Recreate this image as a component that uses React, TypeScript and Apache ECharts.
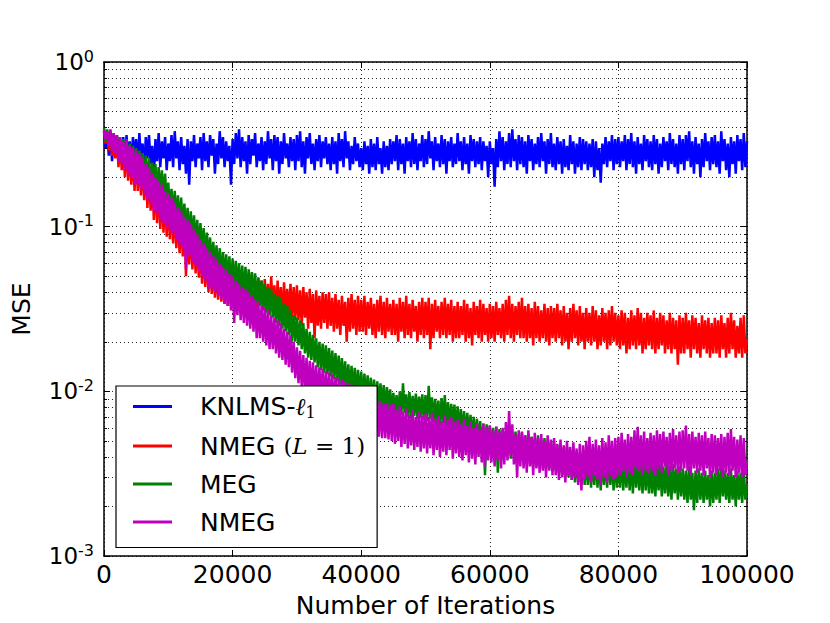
import React, { useEffect, useRef } from 'react';
import * as echarts from 'echarts';

// Iteration spacing of the sampled MSE curves (401 samples, 0..100000)
const STEP = 250;

const SERIES_NAMES = ['KNLMS-ℓ1', 'NMEG (L=1)', 'MEG', 'NMEG'];
const SERIES_COLORS = ['#0000ff', '#ff0000', '#008000', '#bf00bf'];
const X_TICKS = [0, 20000, 40000, 60000, 80000, 100000];

const KNLMS = [
  0.38, 0.30, 0.36, 0.27, 0.37, 0.25, 0.34, 0.28, 0.36, 0.24, 0.33, 0.27, 0.35, 0.22, 0.36, 0.26, 0.33, 0.24, 0.35, 0.27,
  0.34, 0.23, 0.37, 0.25, 0.32, 0.21, 0.35, 0.26, 0.36, 0.24, 0.31, 0.20, 0.34, 0.25, 0.37, 0.23, 0.33, 0.26, 0.35, 0.22,
  0.32, 0.25, 0.36, 0.23, 0.38, 0.26, 0.33, 0.22, 0.35, 0.24, 0.31, 0.21, 0.34, 0.18, 0.33, 0.25, 0.36, 0.23, 0.32, 0.26,
  0.35, 0.22, 0.37, 0.25, 0.33, 0.23, 0.36, 0.27, 0.34, 0.21, 0.32, 0.24, 0.38, 0.26, 0.35, 0.23, 0.33, 0.25, 0.31, 0.18,
  0.34, 0.24, 0.37, 0.26, 0.39, 0.23, 0.35, 0.25, 0.33, 0.21, 0.36, 0.24, 0.34, 0.27, 0.37, 0.23, 0.32, 0.25, 0.35, 0.22,
  0.33, 0.24, 0.38, 0.26, 0.34, 0.22, 0.36, 0.25, 0.35, 0.21, 0.33, 0.24, 0.37, 0.26, 0.32, 0.23, 0.35, 0.25, 0.34, 0.22,
  0.36, 0.25, 0.38, 0.23, 0.33, 0.21, 0.35, 0.26, 0.37, 0.24, 0.32, 0.22, 0.34, 0.25, 0.36, 0.23, 0.33, 0.26, 0.35, 0.24,
  0.32, 0.22, 0.35, 0.24, 0.33, 0.21, 0.37, 0.25, 0.34, 0.23, 0.38, 0.26, 0.33, 0.22, 0.31, 0.24, 0.35, 0.25, 0.32, 0.23,
  0.30, 0.22, 0.33, 0.24, 0.31, 0.21, 0.34, 0.23, 0.32, 0.22, 0.35, 0.24, 0.30, 0.21, 0.33, 0.23, 0.31, 0.22, 0.34, 0.24,
  0.33, 0.25, 0.36, 0.22, 0.34, 0.24, 0.32, 0.21, 0.35, 0.25, 0.33, 0.23, 0.37, 0.24, 0.34, 0.22, 0.32, 0.25, 0.36, 0.23,
  0.34, 0.24, 0.38, 0.26, 0.33, 0.22, 0.35, 0.25, 0.32, 0.23, 0.36, 0.24, 0.34, 0.21, 0.33, 0.25, 0.35, 0.23, 0.32, 0.24,
  0.37, 0.25, 0.33, 0.22, 0.35, 0.24, 0.32, 0.21, 0.36, 0.25, 0.34, 0.23, 0.33, 0.24, 0.35, 0.22, 0.33, 0.25, 0.31, 0.20,
  0.33, 0.24, 0.30, 0.175, 0.34, 0.23, 0.38, 0.25, 0.35, 0.22, 0.33, 0.24, 0.37, 0.23, 0.39, 0.25, 0.34, 0.22, 0.36, 0.24,
  0.35, 0.23, 0.33, 0.21, 0.36, 0.25, 0.34, 0.22, 0.32, 0.24, 0.35, 0.23, 0.37, 0.25, 0.33, 0.21, 0.34, 0.24, 0.37, 0.23,
  0.32, 0.22, 0.35, 0.24, 0.33, 0.21, 0.34, 0.23, 0.31, 0.22, 0.36, 0.24, 0.33, 0.21, 0.32, 0.23, 0.35, 0.22, 0.34, 0.24,
  0.33, 0.22, 0.32, 0.23, 0.34, 0.20, 0.33, 0.22, 0.30, 0.185, 0.32, 0.24, 0.35, 0.23, 0.33, 0.25, 0.36, 0.22, 0.34, 0.24,
  0.35, 0.23, 0.33, 0.25, 0.36, 0.22, 0.34, 0.24, 0.37, 0.23, 0.33, 0.21, 0.35, 0.24, 0.32, 0.22, 0.36, 0.25, 0.34, 0.23,
  0.33, 0.22, 0.36, 0.24, 0.34, 0.21, 0.32, 0.23, 0.35, 0.25, 0.33, 0.22, 0.37, 0.24, 0.34, 0.23, 0.32, 0.21, 0.36, 0.24,
  0.34, 0.22, 0.36, 0.25, 0.38, 0.23, 0.33, 0.21, 0.35, 0.24, 0.32, 0.20, 0.34, 0.23, 0.37, 0.25, 0.33, 0.22, 0.35, 0.24,
  0.36, 0.23, 0.33, 0.21, 0.38, 0.25, 0.34, 0.22, 0.32, 0.20, 0.35, 0.24, 0.33, 0.21, 0.36, 0.25, 0.34, 0.22, 0.37, 0.23,
  0.33,
];

const NMEG_L1 = [
  0.38, 0.32, 0.37, 0.29, 0.38, 0.27, 0.36, 0.26, 0.35, 0.23, 0.34, 0.22, 0.32, 0.2, 0.33, 0.19, 0.3, 0.18, 0.29, 0.165,
  0.28, 0.165, 0.27, 0.155, 0.25, 0.145, 0.23, 0.13, 0.22, 0.125, 0.2, 0.11, 0.19, 0.105, 0.18, 0.097, 0.17, 0.092, 0.16, 0.087,
  0.15, 0.084, 0.145, 0.079, 0.135, 0.074, 0.125, 0.069, 0.12, 0.066, 0.11, 0.05, 0.105, 0.059, 0.1, 0.055, 0.094, 0.052, 0.088, 0.049,
  0.08, 0.045, 0.076, 0.043, 0.07, 0.04, 0.066, 0.039, 0.062, 0.037, 0.058, 0.036, 0.055, 0.035, 0.053, 0.034, 0.052, 0.033, 0.05, 0.033,
  0.051, 0.034, 0.049, 0.032, 0.053, 0.035, 0.048, 0.031, 0.05, 0.034, 0.047, 0.032, 0.052, 0.033, 0.046, 0.03, 0.049, 0.033, 0.047, 0.031,
  0.048, 0.031, 0.045, 0.029, 0.05, 0.032, 0.044, 0.028, 0.047, 0.03, 0.043, 0.027, 0.046, 0.029, 0.042, 0.026, 0.045, 0.028, 0.043, 0.027,
  0.044, 0.027, 0.041, 0.025, 0.043, 0.028, 0.04, 0.024, 0.042, 0.026, 0.039, 0.021, 0.041, 0.025, 0.038, 0.024, 0.04, 0.026, 0.039, 0.024,
  0.04, 0.025, 0.037, 0.023, 0.039, 0.024, 0.036, 0.022, 0.038, 0.025, 0.035, 0.02, 0.037, 0.023, 0.039, 0.024, 0.036, 0.022, 0.038, 0.023,
  0.036, 0.023, 0.038, 0.022, 0.035, 0.024, 0.037, 0.022, 0.034, 0.021, 0.036, 0.023, 0.038, 0.022, 0.035, 0.021, 0.037, 0.023, 0.034, 0.022,
  0.036, 0.022, 0.034, 0.02, 0.037, 0.023, 0.035, 0.021, 0.038, 0.022, 0.034, 0.021, 0.036, 0.023, 0.033, 0.02, 0.035, 0.022, 0.037, 0.021,
  0.035, 0.022, 0.037, 0.018, 0.034, 0.021, 0.036, 0.023, 0.033, 0.021, 0.035, 0.022, 0.037, 0.021, 0.034, 0.022, 0.036, 0.02, 0.033, 0.021,
  0.035, 0.021, 0.033, 0.022, 0.036, 0.02, 0.034, 0.021, 0.032, 0.019, 0.035, 0.022, 0.033, 0.021, 0.036, 0.02, 0.034, 0.022, 0.032, 0.02,
  0.034, 0.021, 0.033, 0.02, 0.035, 0.022, 0.032, 0.021, 0.034, 0.02, 0.036, 0.022, 0.038, 0.021, 0.034, 0.02, 0.033, 0.022, 0.035, 0.021,
  0.037, 0.021, 0.033, 0.02, 0.034, 0.021, 0.032, 0.019, 0.035, 0.021, 0.033, 0.02, 0.031, 0.021, 0.034, 0.02, 0.032, 0.019, 0.033, 0.021,
  0.032, 0.02, 0.034, 0.021, 0.031, 0.019, 0.033, 0.02, 0.03, 0.018, 0.032, 0.02, 0.034, 0.021, 0.031, 0.019, 0.033, 0.02, 0.03, 0.018,
  0.032, 0.02, 0.03, 0.019, 0.033, 0.02, 0.031, 0.018, 0.029, 0.019, 0.032, 0.02, 0.03, 0.018, 0.031, 0.019, 0.033, 0.02, 0.03, 0.019,
  0.029, 0.018, 0.031, 0.019, 0.03, 0.017, 0.028, 0.018, 0.031, 0.019, 0.029, 0.018, 0.032, 0.019, 0.03, 0.017, 0.028, 0.018, 0.03, 0.019,
  0.029, 0.018, 0.031, 0.017, 0.028, 0.018, 0.03, 0.019, 0.029, 0.017, 0.027, 0.018, 0.03, 0.017, 0.028, 0.018, 0.027, 0.0145, 0.029, 0.017,
  0.028, 0.017, 0.03, 0.018, 0.027, 0.016, 0.029, 0.018, 0.028, 0.017, 0.026, 0.016, 0.029, 0.018, 0.027, 0.017, 0.028, 0.016, 0.026, 0.017,
  0.028, 0.017, 0.027, 0.016, 0.029, 0.018, 0.026, 0.016, 0.028, 0.017, 0.03, 0.018, 0.027, 0.016, 0.025, 0.017, 0.028, 0.016, 0.029, 0.017,
  0.021,
];

const MEG = [
  0.4, 0.33, 0.39, 0.31, 0.38, 0.3, 0.37, 0.29, 0.36, 0.28, 0.35, 0.26, 0.34, 0.25, 0.33, 0.24, 0.32, 0.23, 0.31, 0.22,
  0.3, 0.21, 0.29, 0.2, 0.28, 0.19, 0.27, 0.18, 0.26, 0.17, 0.245, 0.165, 0.24, 0.16, 0.23, 0.155, 0.22, 0.15, 0.21, 0.14,
  0.185, 0.125, 0.17, 0.115, 0.165, 0.11, 0.155, 0.1, 0.15, 0.098, 0.138, 0.092, 0.13, 0.086, 0.124, 0.082, 0.117, 0.078, 0.11, 0.074,
  0.105, 0.07, 0.098, 0.066, 0.092, 0.062, 0.086, 0.058, 0.081, 0.054, 0.077, 0.051, 0.074, 0.049, 0.07, 0.047, 0.068, 0.045, 0.066, 0.043,
  0.064, 0.043, 0.062, 0.041, 0.06, 0.04, 0.058, 0.038, 0.057, 0.038, 0.055, 0.037, 0.053, 0.035, 0.052, 0.034, 0.049, 0.033, 0.047, 0.031,
  0.045, 0.03, 0.043, 0.029, 0.042, 0.028, 0.039, 0.026, 0.038, 0.025, 0.037, 0.024, 0.034, 0.023, 0.033, 0.022, 0.031, 0.02, 0.029, 0.02,
  0.028, 0.019, 0.027, 0.018, 0.026, 0.017, 0.024, 0.016, 0.023, 0.0155, 0.022, 0.015, 0.021, 0.014, 0.02, 0.0135, 0.0195, 0.013, 0.019, 0.0127,
  0.0183, 0.0123, 0.0177, 0.0119, 0.0171, 0.0115, 0.0165, 0.011, 0.0159, 0.0106, 0.0152, 0.0102, 0.0146, 0.0098, 0.0143, 0.0096, 0.0139, 0.0093, 0.0135, 0.0091,
  0.0132, 0.009, 0.0128, 0.0088, 0.0125, 0.0085, 0.0121, 0.0083, 0.0118, 0.0081, 0.0115, 0.008, 0.0112, 0.0078, 0.0109, 0.0076, 0.0106, 0.0075, 0.0103, 0.0075,
  0.0098, 0.0073, 0.0095, 0.0071, 0.01, 0.0072, 0.0112, 0.0074, 0.0096, 0.007, 0.0099, 0.0069, 0.0094, 0.0071, 0.0097, 0.0068, 0.0093, 0.0069, 0.0096, 0.0067,
  0.0095, 0.0066, 0.0108, 0.0068, 0.0092, 0.0065, 0.009, 0.0063, 0.0088, 0.0062, 0.0091, 0.0064, 0.0095, 0.006, 0.0086, 0.0061, 0.0084, 0.0058, 0.0083, 0.0057,
  0.0081, 0.0056, 0.0078, 0.0054, 0.0076, 0.0053, 0.0074, 0.0051, 0.0072, 0.005, 0.007, 0.0048, 0.0068, 0.0047, 0.0066, 0.0045, 0.0064, 0.0031, 0.0063, 0.0044,
  0.0062, 0.0043, 0.006, 0.0042, 0.0061, 0.0032, 0.0059, 0.0041, 0.0058, 0.004, 0.0057, 0.0041, 0.0059, 0.0039, 0.0056, 0.004, 0.0057, 0.0038, 0.0055, 0.0039,
  0.0056, 0.0038, 0.0054, 0.0037, 0.0055, 0.0036, 0.0053, 0.0037, 0.0052, 0.0035, 0.0054, 0.0036, 0.0051, 0.0034, 0.0052, 0.0035, 0.005, 0.0034, 0.0049, 0.0033,
  0.0049, 0.0033, 0.0047, 0.0032, 0.0048, 0.0031, 0.0045, 0.003, 0.0046, 0.003, 0.0044, 0.0029, 0.0043, 0.0028, 0.0042, 0.0028, 0.0041, 0.0027, 0.0042, 0.0027,
  0.004, 0.0027, 0.0041, 0.0026, 0.0039, 0.0027, 0.0042, 0.0026, 0.004, 0.0025, 0.0041, 0.0027, 0.0039, 0.0026, 0.0042, 0.0027, 0.004, 0.0025, 0.0041, 0.0026,
  0.0039, 0.0026, 0.0041, 0.0025, 0.0038, 0.0026, 0.004, 0.0025, 0.0039, 0.0024, 0.0041, 0.0026, 0.0038, 0.0025, 0.0037, 0.0024, 0.0039, 0.0025, 0.0038, 0.0024,
  0.0037, 0.0024, 0.0036, 0.0023, 0.0038, 0.0025, 0.0036, 0.0023, 0.0035, 0.0024, 0.0037, 0.0023, 0.0035, 0.0022, 0.0036, 0.0024, 0.0034, 0.0022, 0.0035, 0.0023,
  0.0034, 0.0022, 0.0033, 0.0021, 0.0035, 0.0022, 0.0032, 0.0019, 0.0033, 0.0021, 0.0034, 0.0022, 0.0032, 0.0021, 0.0033, 0.0022, 0.0031, 0.002, 0.0033, 0.0021,
  0.0032, 0.0022, 0.0034, 0.0021, 0.0036, 0.0023, 0.0033, 0.0022, 0.0032, 0.0021, 0.0034, 0.0022, 0.0031, 0.002, 0.0033, 0.0022, 0.0032, 0.0021, 0.0034, 0.0022,
  0.0027,
];

const NMEG = [
  0.39, 0.34, 0.38, 0.31, 0.39, 0.29, 0.37, 0.28, 0.36, 0.25, 0.35, 0.24, 0.33, 0.22, 0.34, 0.21, 0.31, 0.2, 0.3, 0.18,
  0.29, 0.18, 0.28, 0.17, 0.26, 0.16, 0.24, 0.145, 0.23, 0.14, 0.21, 0.125, 0.2, 0.12, 0.19, 0.11, 0.18, 0.105, 0.165, 0.1,
  0.16, 0.095, 0.15, 0.09, 0.14, 0.083, 0.13, 0.078, 0.125, 0.074, 0.115, 0.055, 0.11, 0.066, 0.105, 0.062, 0.097, 0.058, 0.09, 0.054,
  0.084, 0.05, 0.079, 0.047, 0.074, 0.042, 0.07, 0.042, 0.066, 0.04, 0.064, 0.038, 0.06, 0.036, 0.057, 0.034, 0.055, 0.033, 0.052, 0.031,
  0.05, 0.026, 0.047, 0.029, 0.045, 0.027, 0.043, 0.026, 0.042, 0.025, 0.04, 0.024, 0.038, 0.023, 0.036, 0.021, 0.035, 0.021, 0.033, 0.02,
  0.032, 0.019, 0.031, 0.018, 0.029, 0.018, 0.028, 0.017, 0.027, 0.016, 0.026, 0.0155, 0.024, 0.0145, 0.023, 0.014, 0.022, 0.013, 0.02, 0.012,
  0.0185, 0.0112, 0.0176, 0.0106, 0.0166, 0.01, 0.016, 0.0096, 0.0153, 0.0092, 0.015, 0.009, 0.0144, 0.0087, 0.014, 0.0085, 0.0137, 0.0082, 0.0133, 0.008,
  0.013, 0.0078, 0.0127, 0.0076, 0.0122, 0.0074, 0.012, 0.0072, 0.0118, 0.0071, 0.0115, 0.0069, 0.0112, 0.0068, 0.011, 0.0066, 0.0107, 0.0065, 0.0106, 0.0064,
  0.0105, 0.0063, 0.0101, 0.0061, 0.0097, 0.0058, 0.0093, 0.0056, 0.0091, 0.0055, 0.0088, 0.0053, 0.0087, 0.0052, 0.0085, 0.0052, 0.0084, 0.0051, 0.0083, 0.005,
  0.0084, 0.0048, 0.0078, 0.005, 0.0081, 0.0046, 0.0075, 0.0048, 0.0079, 0.0045, 0.0072, 0.0047, 0.0077, 0.0044, 0.007, 0.0046, 0.0076, 0.0043, 0.0071, 0.0045,
  0.0073, 0.0042, 0.0069, 0.0045, 0.0074, 0.0041, 0.0068, 0.0044, 0.0071, 0.004, 0.0066, 0.0043, 0.0072, 0.0041, 0.0067, 0.0044, 0.007, 0.0039, 0.0065, 0.0042,
  0.0067, 0.004, 0.0063, 0.0038, 0.0068, 0.0041, 0.0062, 0.0037, 0.0066, 0.0039, 0.006, 0.0036, 0.0064, 0.004, 0.0059, 0.0037, 0.0063, 0.0035, 0.0061, 0.0038,
  0.0062, 0.0037, 0.0058, 0.0035, 0.0061, 0.0038, 0.0057, 0.0034, 0.006, 0.0036, 0.0065, 0.0038, 0.0076, 0.0041, 0.0063, 0.0036, 0.0055, 0.003, 0.0058, 0.0035,
  0.0057, 0.0034, 0.0054, 0.0032, 0.0058, 0.0035, 0.0053, 0.0031, 0.0056, 0.0034, 0.0052, 0.0032, 0.0055, 0.0033, 0.005, 0.003, 0.0054, 0.0033, 0.0051, 0.0031,
  0.0052, 0.0031, 0.0048, 0.0029, 0.0051, 0.003, 0.0047, 0.0028, 0.005, 0.0031, 0.0046, 0.0029, 0.0049, 0.003, 0.0045, 0.0027, 0.0048, 0.0025, 0.0047, 0.0029,
  0.005, 0.003, 0.0053, 0.0028, 0.0048, 0.0031, 0.0051, 0.0029, 0.0047, 0.0027, 0.0052, 0.003, 0.0049, 0.0028, 0.0054, 0.0031, 0.005, 0.0029, 0.0052, 0.003,
  0.0053, 0.0031, 0.0056, 0.0033, 0.0051, 0.003, 0.0055, 0.0032, 0.0053, 0.0031, 0.0058, 0.0034, 0.0061, 0.0033, 0.0054, 0.0031, 0.0057, 0.0033, 0.0052, 0.0032,
  0.0056, 0.0033, 0.0054, 0.0031, 0.0058, 0.0034, 0.0055, 0.0032, 0.0057, 0.0035, 0.0053, 0.0031, 0.0056, 0.0033, 0.0059, 0.0034, 0.0054, 0.0032, 0.0057, 0.0033,
  0.0058, 0.0034, 0.0062, 0.0033, 0.0055, 0.0031, 0.0057, 0.0034, 0.0053, 0.0032, 0.0056, 0.0033, 0.0054, 0.0031, 0.0057, 0.0034, 0.0052, 0.003, 0.0055, 0.0032,
  0.0054, 0.0031, 0.0052, 0.0033, 0.0055, 0.003, 0.0053, 0.0032, 0.0056, 0.0031, 0.0059, 0.0033, 0.0053, 0.003, 0.0051, 0.0032, 0.0054, 0.003, 0.0052, 0.0031,
  0.0038,
];

const X_MIN = X_TICKS[0];
const X_MAX = X_TICKS[X_TICKS.length - 1];
const X_INTERVAL = X_TICKS[1] - X_TICKS[0];
const Y_MIN = 0.001;
const Y_MAX = 1;

const FONT = 'DejaVu Sans';
const SERIF = 'DejaVu Serif';

const dotted = { type: [1, 3] as number[], color: '#000', width: 1, opacity: 0.85 };

function toPairs(values: number[]) {
  return values.map((v, i) => [i * STEP, v]);
}

export default function App() {
  const ref = useRef<HTMLDivElement>(null);

  useEffect(() => {
    document.body.style.margin = '0';
    const chart = echarts.init(ref.current!, null, { renderer: 'svg' });
    const allData = [KNLMS, NMEG_L1, MEG, NMEG];

    const option: any = {
      animation: false,
      backgroundColor: '#fff',
      textStyle: { fontFamily: FONT, color: '#000' },
      grid: { left: 104, right: 83, top: 62, bottom: 63, containLabel: false },
      xAxis: [
        {
          type: 'value',
          min: X_MIN,
          max: X_MAX,
          interval: X_INTERVAL,
          position: 'bottom',
          name: 'Number of Iterations',
          nameLocation: 'middle',
          nameGap: 37,
          nameTextStyle: { fontSize: 25, fontFamily: FONT, color: '#000' },
          axisLine: { show: true, onZero: false, lineStyle: { color: '#000', width: 1.5 } },
          axisTick: { show: true, inside: true, length: 6, lineStyle: { color: '#000', width: 1 } },
          axisLabel: { fontSize: 25, fontFamily: FONT, color: '#000', margin: 6, formatter: (v: number) => String(v) },
          splitLine: { show: true, lineStyle: dotted },
        },
        {
          type: 'value',
          min: X_MIN,
          max: X_MAX,
          interval: X_INTERVAL,
          position: 'top',
          axisLine: { show: true, onZero: false, lineStyle: { color: '#000', width: 1.5 } },
          axisTick: { show: true, inside: true, length: 6, lineStyle: { color: '#000', width: 1 } },
          axisLabel: { show: false },
          splitLine: { show: false },
        },
      ],
      yAxis: [
        {
          type: 'log',
          logBase: 10,
          min: Y_MIN,
          max: Y_MAX,
          position: 'left',
          name: 'MSE',
          nameLocation: 'middle',
          nameGap: 70,
          nameTextStyle: { fontSize: 25, fontFamily: FONT, color: '#000' },
          axisLine: { show: true, onZero: false, lineStyle: { color: '#000', width: 1.5 } },
          axisTick: { show: true, inside: true, length: 6, lineStyle: { color: '#000', width: 1 } },
          minorTick: { show: true, splitNumber: 9, length: 3, lineStyle: { color: '#000', width: 1 } },
          minorSplitLine: { show: true, lineStyle: dotted },
          splitLine: { show: true, lineStyle: dotted },
          axisLabel: {
            margin: 10,
            formatter: (v: number) => `{b|10}{s|${Math.round(Math.log10(v))}}`,
            rich: {
              b: { fontSize: 23, fontFamily: FONT, color: '#000', lineHeight: 28 },
              s: { fontSize: 16, fontFamily: FONT, color: '#000', lineHeight: 16, verticalAlign: 'top' },
            },
          },
        },
        {
          type: 'log',
          logBase: 10,
          min: Y_MIN,
          max: Y_MAX,
          position: 'right',
          axisLine: { show: true, onZero: false, lineStyle: { color: '#000', width: 1.5 } },
          axisTick: { show: true, inside: true, length: 6, lineStyle: { color: '#000', width: 1 } },
          minorTick: { show: true, splitNumber: 9, length: 3, lineStyle: { color: '#000', width: 1 } },
          axisLabel: { show: false },
          splitLine: { show: false },
          minorSplitLine: { show: false },
        },
      ],
      legend: {
        orient: 'vertical',
        left: 116,
        top: 386,
        padding: [8, 12, 13, 17],
        itemGap: 13,
        itemWidth: 39,
        itemHeight: 3,
        backgroundColor: '#fff',
        borderColor: '#000',
        borderWidth: 1.2,
        borderRadius: 0,
        data: SERIES_NAMES.map((n) => ({ name: n, icon: 'rect' })),
        formatter: (name: string) => {
          if (name === SERIES_NAMES[0]) return '{t|KNLMS-}{i|ℓ}{sub|1}';
          if (name === SERIES_NAMES[1]) return '{t|NMEG }{m|(}{mi|L}{m| = 1)}';
          return `{t|${name}}`;
        },
        textStyle: {
          rich: {
            t: { fontSize: 25, fontFamily: FONT, color: '#000', lineHeight: 28, padding: [0, 0, 0, 23] },
            i: { fontSize: 24, fontFamily: SERIF, fontStyle: 'italic', color: '#000', lineHeight: 28 },
            sub: { fontSize: 16, fontFamily: SERIF, color: '#000', lineHeight: 20, verticalAlign: 'bottom' },
            m: { fontSize: 23, fontFamily: SERIF, color: '#000', lineHeight: 28 },
            mi: { fontSize: 23, fontFamily: SERIF, fontStyle: 'italic', color: '#000', lineHeight: 28 },
          },
        },
      },
      series: SERIES_NAMES.map((name, k) => ({
        name,
        type: 'line',
        xAxisIndex: 0,
        yAxisIndex: 0,
        data: toPairs(allData[k]),
        symbol: 'none',
        showSymbol: false,
        color: SERIES_COLORS[k],
        lineStyle: { color: SERIES_COLORS[k], width: 2.5 },
        silent: true,
      })),
    };

    chart.setOption(option);
    return () => chart.dispose();
  }, []);

  return <div ref={ref} style={{ width: 830, height: 623 }} />;
}
